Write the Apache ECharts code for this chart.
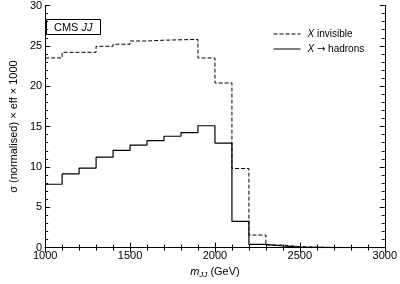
<!DOCTYPE html>
<html><head><meta charset="utf-8">
<script src="https://cdn.jsdelivr.net/npm/echarts@6/dist/echarts.min.js"></script>
<style>html,body{margin:0;padding:0;background:#fff}#c{width:400px;height:284px}</style>
</head><body><div id="c"></div>
<script>
const binEdges = [1000,1100,1200,1300,1400,1500,1600,1700,1800,1900,2000,2100,2200,2300,2400,2500,2600,2700,2800,2900,3000];
const invisible = [23.5,24.2,24.2,24.95,25.2,25.6,25.7,25.75,25.8,23.5,20.4,9.8,1.55,0.32,0.12,0.05,0.03,0.02,0,0];
const hadrons = [7.85,9.13,9.86,11.2,12.05,12.7,13.25,13.8,14.25,15.1,12.95,3.25,0.4,0.2,0.05,0.02,0,0,0,0];
const xTicks = [1000,1500,2000,2500,3000];
const yTicks = [0,5,10,15,20,25,30];

function steps(vals){
  const d = vals.map((v,i)=>[binEdges[i], v]);
  d.push([binEdges[binEdges.length-1], vals[vals.length-1]]);
  return d;
}
const FONT = 'Liberation Sans';
const chart = echarts.init(document.getElementById('c'), null, {renderer:'canvas'});
const axisCommon = {
  axisLine:{show:true, lineStyle:{color:'#000', width:1}},
  axisTick:{show:true, inside:true, length:5, lineStyle:{color:'#000'}},
  minorTick:{show:true, splitNumber:5, length:3, lineStyle:{color:'#000'}},
  splitLine:{show:false}
};
chart.setOption({
  animation:false,
  textStyle:{fontFamily:FONT},
  grid:{left:31.5, right:13.5, top:5, bottom:29.5, containLabel:false},
  title:{
    text:'{a|CMS }{i|JJ}',
    left:46, top:19,
    borderColor:'#000', borderWidth:1,
    padding:[3,8,2,8],
    textStyle:{fontWeight:'normal', rich:{
      a:{fontFamily:FONT, fontSize:11, fontWeight:'normal', color:'#000'},
      i:{fontFamily:FONT, fontSize:11, fontStyle:'italic', fontWeight:'normal', color:'#000'}
    }}
  },
  legend:{
    orient:'vertical', left:273, top:29, padding:0, itemWidth:27, itemHeight:10, itemGap:5,
    data:['inv','had'],
    itemStyle:{opacity:0},
    lineStyle:{width:1},
    formatter:function(n){ return n==='inv' ? '{i|X} invisible' : '{i|X} {r|\u2192} hadrons'; },
    textStyle:{fontFamily:FONT, fontSize:10, color:'#000', padding:[0,0,0,2],
      rich:{i:{fontFamily:FONT, fontSize:10, fontStyle:'italic', color:'#000'},
            r:{fontFamily:'DejaVu Sans', fontSize:10, color:'#000'}}}
  },
  xAxis:[
    Object.assign({type:'value', min:1000, max:3000, interval:500, position:'bottom',
      name:'{m|m}{s|JJ}{n| (GeV)}', nameLocation:'middle', nameGap:17,
      nameTextStyle:{rich:{
        m:{fontFamily:FONT, fontSize:11, fontStyle:'italic', color:'#000'},
        s:{fontFamily:FONT, fontSize:8, fontStyle:'italic', color:'#000', padding:[6,0,0,0]},
        n:{fontFamily:FONT, fontSize:11, color:'#000'}
      }},
      axisLabel:{show:true, color:'#000', fontSize:11, fontFamily:FONT, margin:3, formatter:v=>String(v)}
    }, axisCommon),
    Object.assign({type:'value', min:1000, max:3000, interval:500, position:'top',
      axisLabel:{show:false}}, axisCommon)
  ],
  yAxis:[
    Object.assign({type:'value', min:0, max:30, interval:5, position:'left',
      name:'\u03c3 (normalised) \u00d7 eff \u00d7 1000', nameLocation:'middle', nameGap:22,
      nameTextStyle:{fontFamily:FONT, fontSize:11, color:'#000'},
      axisLabel:{show:true, color:'#000', fontSize:11, fontFamily:FONT, margin:3, formatter:v=>String(v)}
    }, axisCommon),
    Object.assign({type:'value', min:0, max:30, interval:5, position:'right',
      axisLabel:{show:false}}, axisCommon)
  ],
  series:[
    {name:'inv', type:'line', step:'end', data:steps(invisible), showSymbol:false, symbol:'none',
      lineStyle:{color:'#000', width:1, type:[4,2]}, itemStyle:{color:'#000'}, xAxisIndex:0, yAxisIndex:0},
    {name:'had', type:'line', step:'end', data:steps(hadrons), showSymbol:false, symbol:'none',
      lineStyle:{color:'#000', width:1.2, type:'solid'}, itemStyle:{color:'#000'}, xAxisIndex:0, yAxisIndex:0}
  ]
});
</script></body></html>
